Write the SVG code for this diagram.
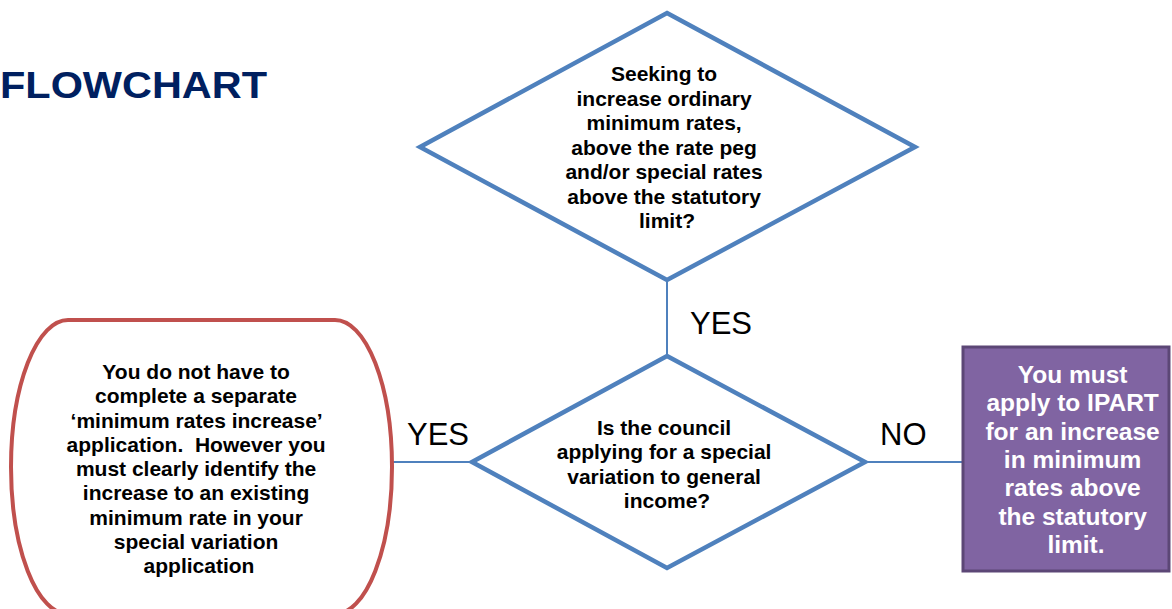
<svg xmlns="http://www.w3.org/2000/svg" width="1172" height="609" viewBox="0 0 1172 609">
  <style>
    .t { font-family: "Liberation Sans", Arial, sans-serif; font-weight: bold; font-size: 21px; fill: #000; text-anchor: middle; }
    .tw { font-family: "Liberation Sans", Arial, sans-serif; font-weight: bold; font-size: 24.5px; fill: #fff; text-anchor: middle; }
    .lbl { font-family: "Liberation Sans", Arial, sans-serif; font-size: 31px; fill: #000; }
    .dia { fill: #fff; stroke: #4F81BD; stroke-width: 4.5; stroke-linejoin: miter; }
    .conn { stroke: #4F81BD; stroke-width: 2; fill: none; }
  </style>
  <rect x="0" y="0" width="1172" height="609" fill="#fff"/>
  <text x="0" y="98" font-family="Liberation Sans, Arial, sans-serif" font-weight="bold" font-size="36" fill="#002060" textLength="267" lengthAdjust="spacingAndGlyphs">FLOWCHART</text>

  <g id="connectors">
    <line class="conn" x1="667" y1="280" x2="667" y2="356"/>
    <line class="conn" x1="392" y1="462" x2="472" y2="462"/>
    <line class="conn" x1="865" y1="462" x2="963" y2="462"/>
  </g>

  <g id="labels">
    <text class="lbl" x="690" y="334">YES</text>
    <text class="lbl" x="407" y="445">YES</text>
    <text class="lbl" x="880" y="445">NO</text>
  </g>

  <g id="decision1">
    <polygon class="dia" points="667,13 915,147 667,280 420,147"/>
    <text class="t">
      <tspan x="667" y="81">Seeking to</tspan>
      <tspan x="667" y="105.5">increase ordinary</tspan>
      <tspan x="667" y="130">minimum rates,</tspan>
      <tspan x="667" y="154.6">above the rate peg</tspan>
      <tspan x="667" y="179.2">and/or special rates</tspan>
      <tspan x="667" y="203.7">above the statutory</tspan>
      <tspan x="667" y="228.3">limit?</tspan>
    </text>
  </g>

  <g id="decision2">
    <polygon class="dia" points="667,356 865,462 667,568 472,462"/>
    <text class="t">
      <tspan x="667" y="435">Is the council</tspan>
      <tspan x="667" y="459.3">applying for a special</tspan>
      <tspan x="667" y="483.6">variation to general</tspan>
      <tspan x="667" y="508">income?</tspan>
    </text>
  </g>

  <g id="outcome-yes">
    <rect x="11" y="320" width="381" height="294" rx="57" ry="147" fill="#fff" stroke="#C0504D" stroke-width="4"/>
    <text class="t">
      <tspan x="199" y="379">You do not have to</tspan>
      <tspan x="199" y="403.3">complete a separate</tspan>
      <tspan x="199" y="427.5">‘minimum rates increase’</tspan>
      <tspan x="199" y="451.8">application.&#160; However you</tspan>
      <tspan x="199" y="476">must clearly identify the</tspan>
      <tspan x="199" y="500.3">increase to an existing</tspan>
      <tspan x="199" y="524.5">minimum rate in your</tspan>
      <tspan x="199" y="548.8">special variation</tspan>
      <tspan x="199" y="573">application</tspan>
    </text>
  </g>

  <g id="outcome-no">
    <rect x="963" y="347" width="206" height="224" fill="#8064A2" stroke="#5C4776" stroke-width="3"/>
    <text class="tw">
      <tspan x="1076" y="383">You must</tspan>
      <tspan x="1076" y="411.3">apply to IPART</tspan>
      <tspan x="1076" y="439.6">for an increase</tspan>
      <tspan x="1076" y="467.9">in minimum</tspan>
      <tspan x="1076" y="496.2">rates above</tspan>
      <tspan x="1076" y="524.5">the statutory</tspan>
      <tspan x="1076" y="552.8">limit.</tspan>
    </text>
  </g>
</svg>
